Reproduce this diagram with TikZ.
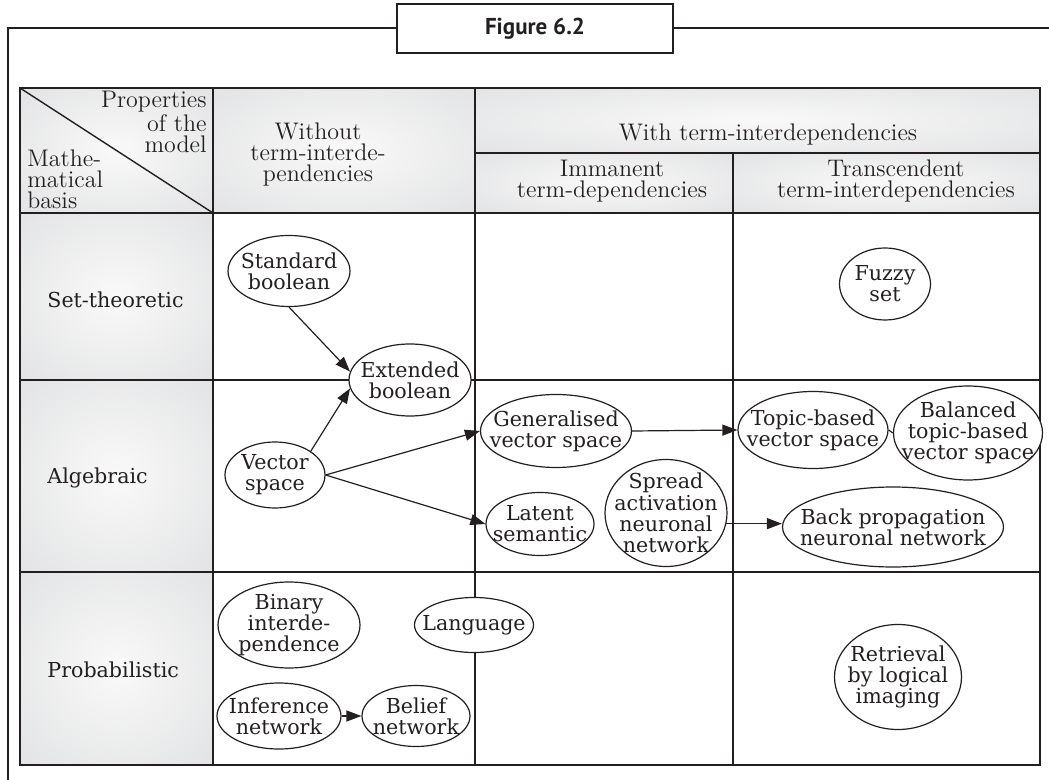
\documentclass[tikz,border=0pt]{standalone}
\usepackage{fontspec}
\newfontfamily\bodyfam{DejaVu Serif}
\newfontfamily\figfam{PT Sans}
\usetikzlibrary{shapes.geometric,arrows.meta}
\definecolor{ink}{HTML}{231F20}
\definecolor{cellin}{HTML}{F9F9F9}
\definecolor{cellout}{HTML}{D9DADC}
\pgfdeclareradialshading{cellshade}{\pgfpoint{0bp}{0bp}}{color(0bp)=(cellin); color(50bp)=(cellout); color(52bp)=(cellout)}
\newcommand\bodyfont{\bodyfam\fontsize{10.3}{10.6}\selectfont}
\newcommand\headfont{\fontsize{12}{10.5}\selectfont}
\newcommand\figfont{\figfam\bfseries\fontsize{11.5}{13}\selectfont}
\begin{document}
\begin{tikzpicture}[x=0.5pt,y=-0.5pt,
  model/.style={draw=ink, fill=white, line width=0.6pt, ellipse, inner xsep=-8pt, inner ysep=-4pt, align=center, font=\bodyfont, text=ink},
  rowlabel/.style={anchor=west, font=\bodyfont, inner sep=0pt, text=ink},
  head/.style={align=center, font=\headfont, inner sep=0pt, text=ink},
  arr/.style={draw=ink, line width=0.6pt, -{Triangle[length=7.5pt,width=5.5pt]}},
  plain/.style={draw=ink, line width=0.6pt},
  gridline/.style={draw=ink, line width=0.7pt},
  frameline/.style={draw=ink, line width=1pt}
]
\useasboundingbox (0,0) rectangle (1049,780);
\fill[white] (0,0) rectangle (1049,780);

% frame and title box
\node[draw=ink, line width=1pt, fill=white, minimum width=138pt, minimum height=24.5pt, inner sep=0pt, font=\figfont, text=ink] (fig) at (535,28.5) {Figure 6.2};
\draw[frameline] (8,780) -- (8,28.5) -- (fig.west);
\draw[frameline] (fig.east) -- (1049,28.5);

% shaded cells
\shade[shading=cellshade] (20,88) rectangle (213,213);
\shade[shading=cellshade] (213,88) rectangle (475,213);
\shade[shading=cellshade] (475,88) rectangle (1040,153);
\shade[shading=cellshade] (475,153) rectangle (733,213);
\shade[shading=cellshade] (733,153) rectangle (1040,213);
\shade[shading=cellshade] (20,213) rectangle (213,380);
\shade[shading=cellshade] (20,380) rectangle (213,572);
\shade[shading=cellshade] (20,572) rectangle (213,765);

% grid
\draw[gridline] (213,88) -- (213,765);
\draw[gridline] (475,88) -- (475,765);
\draw[gridline] (733,153) -- (733,765);
\draw[gridline] (475,153) -- (1040,153);
\draw[gridline] (20,213) -- (1040,213);
\draw[gridline] (20,380) -- (1040,380);
\draw[gridline] (20,572) -- (1040,572);
\draw[gridline] (20,88) -- (213,213);
\draw[draw=ink, line width=0.9pt] (20,88) rectangle (1040,765);

% header texts
\node[head, anchor=east, align=right] (hprop) at (207,122) {Properties\\of the\\model};
\node[head, anchor=west, align=left] (hmath) at (27,179) {Mathe-\\matical\\basis};
\node[head] (hwo) at (318,155) {Without\\term-interde-\\pendencies};
\node[head] (hwith) at (768,135) {With term-interdependencies};
\node[head] (himm) at (612,181) {Immanent\\term-dependencies};
\node[head] (htr) at (896,181) {Transcendent\\term-interdependencies};

% row labels
\node[rowlabel] (rset) at (47,300) {Set-theoretic};
\node[rowlabel] (ralg) at (47,478) {Algebraic};
\node[rowlabel] (rprob) at (47,670) {Probabilistic};

% models
\node[model, minimum width=61pt, minimum height=35.5pt] (sb) at (289,271) {Standard\\boolean};
\node[model, minimum width=61pt, minimum height=36pt] (eb) at (410,380) {Extended\\boolean};
\node[model, minimum width=50pt, minimum height=33pt] (vs) at (275,475) {Vector\\space};
\node[model, minimum width=75.5pt, minimum height=36.5pt] (gv) at (556,431) {Generalised\\vector space};
\node[model, minimum width=75pt, minimum height=38.5pt] (tb) at (813,430) {Topic-based\\vector space};
\node[model, minimum width=74.5pt, minimum height=47pt] (bt) at (968,433) {Balanced\\topic-based\\vector space};
\node[model, minimum width=45.5pt, minimum height=36pt] (fz) at (885,284) {Fuzzy\\set};
\node[model, minimum width=54pt, minimum height=31.5pt] (ls) at (540,524) {Latent\\semantic};
\node[model, minimum width=61pt, minimum height=53.5pt] (sa) at (666,513) {Spread\\activation\\neuronal\\network};
\node[model, minimum width=110.5pt, minimum height=40pt] (bp) at (893,527) {Back propagation\\neuronal network};
\node[model, minimum width=63.5pt, minimum height=52.5pt] (rl) at (898,677) {Retrieval\\by logical\\imaging};
\node[model, minimum width=59.5pt, minimum height=27.5pt] (lg) at (474,625) {Language};
\node[model, minimum width=71pt, minimum height=43pt] (bi) at (289,625) {Binary\\interde-\\pendence};
\node[model, minimum width=62pt, minimum height=33pt] (inf) at (279,716) {Inference\\network};
\node[model, minimum width=54pt, minimum height=30.5pt] (bn) at (416,716) {Belief\\network};

% connectors
\draw[arr] (sb.south) -- (eb.172);
\draw[arr] (vs.north east) -- (eb.188);
\draw[arr] (vs.east) -- (gv.west);
\draw[arr] (vs.east) -- (ls.west);
\draw[arr] (gv.east) -- (tb.west);
\draw[plain] (tb.east) -- (bt.west);
\draw[arr] (sa.-10) -- (sa.-10 -| bp.west);
\draw[arr] (inf.east) -- (bn.west);
\end{tikzpicture}
\end{document}
